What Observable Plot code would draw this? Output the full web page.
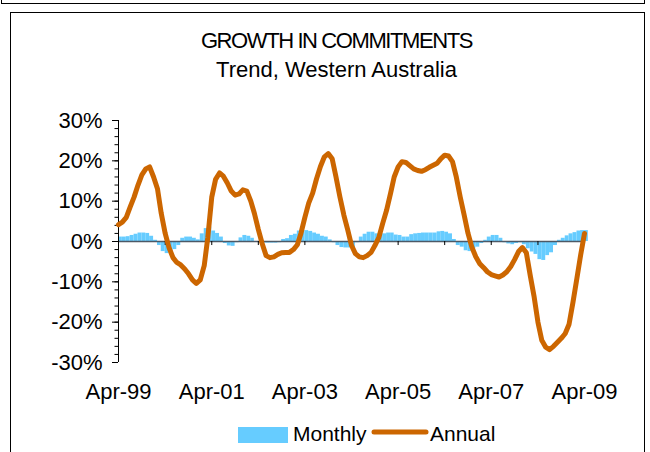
<!DOCTYPE html>
<html><head><meta charset="utf-8">
<script src="https://cdn.jsdelivr.net/npm/d3@7"></script>
<script src="https://cdn.jsdelivr.net/npm/@observablehq/plot@0.6"></script>
<style>
body{margin:0;background:#fff;}
#wrap{position:relative;width:650px;height:452px;overflow:hidden;font-family:"Liberation Sans",Arial,sans-serif;color:#000;background:#fff;}
.box{position:absolute;border:1px solid #000;box-sizing:border-box;}
#box1{left:1px;top:-20px;width:644px;height:24px;}
#box2{left:10px;top:12px;width:635px;height:470px;}
.ttl{position:absolute;left:10px;width:653px;text-align:center;font-size:22px;line-height:22px;white-space:nowrap;}
#title{top:30px;letter-spacing:-1.4px;}
#subtitle{top:59px;}
#chart{position:absolute;left:0;top:0;}
.lg{position:absolute;}
.lgt{position:absolute;font-size:21px;line-height:21px;white-space:nowrap;}
</style></head><body>
<div id="wrap">
  <div class="box" id="box1"></div>
  <div class="box" id="box2"></div>
  <div class="ttl" id="title"></div>
  <div class="ttl" id="subtitle"></div>
  <div id="chart"></div>
  <div id="legend"></div>
</div>
<script>
const titleText = "GROWTH IN COMMITMENTS";
const subtitleText = "Trend, Western Australia";
const seriesNames = ["Monthly", "Annual"];
const seriesColors = ["#66CCFF", "#CC6600"];
const yTicks = [-30, -20, -10, 0, 10, 20, 30];

// Annual growth (%), monthly from Apr-99 to Apr-09
const annual = [
  4.2, 4.8, 6, 8.5, 11, 14, 16.5, 18, 18.5, 16, 13, 7,
  2, -1.5, -4, -5.2, -5.8, -6.8, -8, -9.5, -10.4, -9.5, -6, 1,
  11, 15.4, 17, 16.2, 14.5, 12.5, 11.5, 11.8, 12.8, 12.5, 10, 7,
  3, -0.5, -3.5, -4, -3.8, -3.2, -2.8, -2.7, -2.7, -2, -0.8, 2,
  6, 9.5, 12, 15.5, 18.6, 21, 21.8, 20.5, 16, 11, 6.5, 3,
  -1, -3, -3.8, -4, -3.5, -2.7, -1, 1, 4.5, 7.8, 12, 16,
  18.5, 19.8, 19.6, 18.8, 18, 17.6, 17.4, 17.8, 18.4, 18.9, 19.4, 20.5,
  21.4, 21.2, 19.8, 16, 11, 6.5, 2, -1.5, -3.8, -5.5, -6.5, -7.5,
  -8.2, -8.5, -8.8, -8.3, -7.5, -6.2, -4.5, -2.5, -1.5, -2.8, -8.5, -13.5,
  -20, -24.5, -26.2, -26.8, -26, -25, -24, -22.8, -20.5, -15, -9, -3.5,
  2
];
// Monthly growth (%), Apr-99 to Apr-09
const monthly = [
  1.1, 1.1, 1.2, 1.5, 1.8, 2.1, 2.1, 2.0, 1.3, 0.3, -1.0, -2.5,
  -3.0, -2.6, -2.0, -1.0, 0.8, 1.1, 1.1, 0.8, 0.4, 1.9, 3.2, 3.6,
  2.6, 2.0, 1.1, -0.5, -1.1, -1.2, -0.3, 0.9, 1.5, 1.3, 0.8, -0.2,
  -0.3, -0.4, -0.4, -0.4, -0.4, -0.3, 0.5, 0.7, 1.5, 1.8, 2.6, 2.7,
  2.7, 2.5, 2.1, 1.8, 1.3, 1.1, 0.4, -0.3, -1.0, -1.5, -1.6, -1.6,
  -1.5, -0.3, 1.1, 1.8, 2.3, 2.3, 1.9, 1.9, 1.9, 2.1, 2.1, 1.6,
  1.5, 1.1, 1.1, 1.7, 1.9, 2.0, 2.1, 2.1, 2.1, 2.1, 2.4, 2.5,
  2.3, 1.9, 0.5, -1.0, -1.4, -2.3, -2.5, -1.8, -1.4, -0.5, 0.3, 1.1,
  1.5, 1.5, 0.8, -0.3, -0.6, -0.8, -0.5, -0.3, -0.8, -1.8, -2.6, -3.2,
  -4.5, -4.7, -3.5, -2.8, -1.0, 0.3, 0.8, 1.4, 1.9, 2.2, 2.6, 2.7,
  2.7
];

const start = new Date(Date.UTC(1999, 3, 1));
const dates = annual.map((_, i) => d3.utcMonth.offset(start, i));
const data = dates.map((d, i) => ({date: d, next: d3.utcMonth.offset(d, 1), annual: annual[i], monthly: monthly[i]}));
const yearTicks = dates.filter(d => d.getUTCMonth() === 3);
const labelTicks = yearTicks.filter((d, i) => i % 2 === 0);
const font = '"Liberation Sans", Arial, sans-serif';

document.getElementById("title").textContent = titleText;
document.getElementById("subtitle").textContent = subtitleText;

const chart = Plot.plot({
  width: 650, height: 452,
  marginLeft: 118, marginRight: 66, marginTop: 120, marginBottom: 90,
  style: {fontFamily: font, fontSize: "22px", color: "#000", background: "transparent", overflow: "visible"},
  x: {type: "utc", domain: [dates[0], dates[dates.length - 1]], label: null},
  y: {domain: [-30, 30], label: null},
  marks: [
    Plot.rect(data, {x1: "date", x2: "next", y1: 0, y2: "monthly", fill: seriesColors[0]}),
    Plot.ruleY([0], {stroke: "#4d5966", strokeWidth: 1.5}),
    Plot.ruleX(yearTicks, {x: d => d, y1: 0, y2: -1, stroke: "#000"}),
    Plot.ruleX([dates[0]], {x: d => d, y1: yTicks[0], y2: yTicks[yTicks.length - 1], stroke: "#000"}),
    Plot.axisY({ticks: d3.range(-30, 31, 2), tickSize: 3.5, tickFormat: () => "", label: null}),
    Plot.axisY({ticks: yTicks, tickSize: 6, tickPadding: 10, tickFormat: d => d + "%", fontSize: 22, label: null}),
    Plot.axisX({ticks: labelTicks, tickSize: 0, tickPadding: 21, tickFormat: d3.utcFormat("%b-%y"), fontSize: 22, label: null}),
    Plot.line(data, {x: "date", y: "annual", stroke: seriesColors[1], strokeWidth: 5, strokeLinejoin: "round"})
  ]
});
document.getElementById("chart").appendChild(chart);

// legend
const lg = document.getElementById("legend");
lg.innerHTML =
  `<div class="lg" style="left:238px;top:427px;width:50px;height:16px;background:${seriesColors[0]}"></div>` +
  `<div class="lgt" style="left:293px;top:423px;">${seriesNames[0]}</div>` +
  `<svg class="lg" style="left:370px;top:426px;" width="60" height="12"><line x1="4" y1="6" x2="56" y2="6" stroke="${seriesColors[1]}" stroke-width="5" stroke-linecap="round"/></svg>` +
  `<div class="lgt" style="left:430px;top:423px;">${seriesNames[1]}</div>`;
</script>
</body></html>
